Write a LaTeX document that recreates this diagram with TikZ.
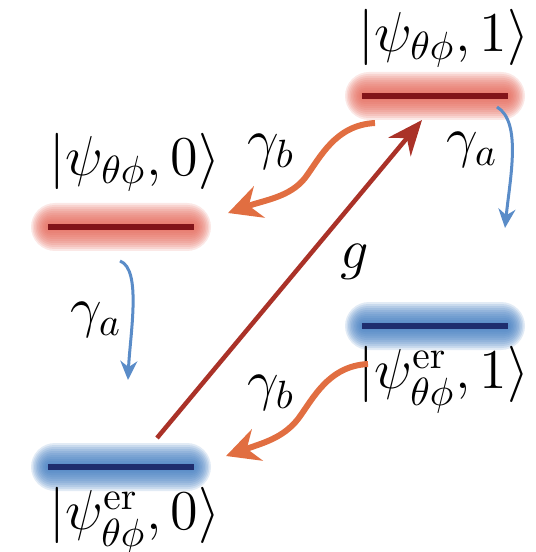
\documentclass[tikz,border=0pt]{standalone}
\usepackage{fix-cm}
\usepackage{amsmath}
\usetikzlibrary{arrows.meta,calc,positioning}
\definecolor{lineR}{RGB}{130,20,25}
\definecolor{lineB}{RGB}{30,45,110}
\definecolor{glowR}{RGB}{228,100,85}
\definecolor{glowB}{RGB}{60,120,190}
\definecolor{decayO}{RGB}{225,110,65}
\definecolor{decayB}{RGB}{90,140,200}
\definecolor{pumpR}{RGB}{170,50,40}
% soft halo behind a level (centre, colour)
\newcommand{\halo}[2]{\foreach \r in {2,4,...,24} { \fill[#2,opacity=0.15,rounded corners=\r*0.1mm] ($(#1)+(-72-0.75*\r,-\r)$) rectangle ($(#1)+(72+0.75*\r,\r)$); }}

\begin{document}
\begin{tikzpicture}[x=0.01cm,y=-0.01cm,
  level/.style={fill=#1,minimum width=1.45cm,minimum height=0.06cm,inner sep=0pt},
  ket/.style={font=\fontsize{16}{18}\selectfont},
  decay/.style={line width=0.06cm,decayO,-{Stealth[length=0.33cm,width=0.33cm,inset=0.11cm]}},
  relax/.style={line width=0.03cm,decayB,-{Stealth[length=0.19cm,width=0.17cm]}},
  pump/.style={line width=0.045cm,pumpR,-{Stealth[length=0.35cm,width=0.29cm]}}]
  \useasboundingbox (0,0) rectangle (535,552);
  % level positions (pixel grid, y downwards)
  \coordinate (pe1) at (435,96);
  \coordinate (pe0) at (121,227);
  \coordinate (pr1) at (435,326);
  \coordinate (pr0) at (121,467);
  % halos
  \halo{pe1}{glowR} \halo{pe0}{glowR}
  \halo{pr1}{glowB} \halo{pr0}{glowB}
  % levels
  \node[level=lineR] (e1) at (pe1) {};
  \node[level=lineR] (e0) at (pe0) {};
  \node[level=lineB] (r1) at (pr1) {};
  \node[level=lineB] (r0) at (pr0) {};
  % state labels
  \node[ket,inner sep=1pt] (le1) at (444,38) {$|\psi_{\theta\phi},1\rangle$};
  \node[ket] (le0) at (135,162) {$|\psi_{\theta\phi},0\rangle$};
  \node[ket] (lr1) at (444,380) {$|\psi^{\mathrm{er}}_{\theta\phi},1\rangle$};
  \node[ket] (lr0) at (135,521) {$|\psi^{\mathrm{er}}_{\theta\phi},0\rangle$};
  % ends of the transitions
  \coordinate (gs) at ($(r0)+(36,-29)$);
  \coordinate (gt) at ($(e1)+(-13,24)$);
  \coordinate (b1s) at ($(e1)+(-60,27)$);
  \coordinate (b1t) at ($(e0)+(107,-14)$);
  \coordinate (b0s) at ($(r1)+(-67,38)$);
  \coordinate (b0t) at ($(r0)+(105,-11)$);
  \coordinate (a1s) at ($(e1)+(62,11)$);
  \coordinate (a1t) at ($(e1)+(70,132)$);
  \coordinate (a0s) at ($(e0)+(-1,34)$);
  \coordinate (a0t) at ($(r0)+(7,-87)$);
  % transitions
  \draw[pump] (gs) -- (gt);
  \draw[decay] (b1s) .. controls +(-40,2) and +(15,-20) .. ++(-70,55) .. controls +(-15,19) and +(37,-13) .. (b1t);
  \draw[decay] (b0s) .. controls +(-40,2) and +(15,-20) .. ++(-70,55) .. controls +(-15,19) and +(37,-13) .. (b0t);
  \draw[relax] (a1s) .. controls +(25,15) and +(5,-50) .. (a1t);
  \draw[relax] (a0s) .. controls +(22,8) and +(2,-45) .. (a0t);
  % rates
  \node[ket] (g) at (355,262) {$g$};
  \node[ket] (gb1) at (271,152) {$\gamma_b$};
  \node[ket] (gb0) at (271,393) {$\gamma_b$};
  \node[ket] (ga1) at (472,150) {$\gamma_a$};
  \node[ket] (ga0) at (96,320) {$\gamma_a$};
\end{tikzpicture}
\end{document}
